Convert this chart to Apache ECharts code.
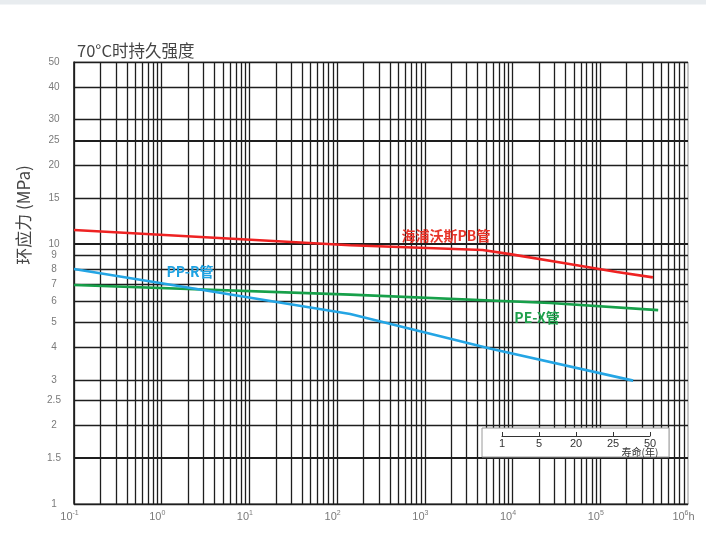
<!DOCTYPE html>
<html>
<head>
<meta charset="utf-8">
<script src="https://cdn.jsdelivr.net/npm/echarts@6/dist/echarts.min.js"></script>
<style>
  html, body { margin: 0; padding: 0; background: #fff; }
  #chart { width: 706px; height: 546px; }
</style>
</head>
<body>
<div id="chart"></div>
<script>
// Long-term hydrostatic strength of plastic pipes at 70 °C (log–log)

// 海浦沃斯 PB 管
const pbHours  = [0.1, 141, 4570, 9330, 38000, 155000, 398000];
const pbStress = [11.3, 9.88, 9.47, 9.13, 8.44, 7.8, 7.43];

// PP-R 管
const pprHours  = [0.1, 141, 5500, 237000];
const pprStress = [8.0, 5.37, 3.96, 2.98];

// PE-X 管
const pexHours  = [0.1, 141, 26900, 457000];
const pexStress = [6.95, 6.38, 5.92, 5.56];

// stress grid lines / tick labels (MPa)
const stressTicks = [1, 1.5, 2, 2.5, 3, 4, 5, 6, 7, 8, 9, 10, 15, 20, 25, 30, 40, 50];
const boldStress = [1.5, 10, 25];

// time grid: decades 10^-1 .. 10^5 and the 2..9 subdivisions
const decadeExponents = [-1, 0, 1, 2, 3, 4, 5];
const subdivisions = [1, 2, 3, 4, 5, 6, 7, 8, 9];

// service life scale (years)
const lifeYears = ['1', '5', '20', '25', '50'];

const seriesLabels = {
  pb: '海浦沃斯PB管',
  ppr: 'PP-R管',
  pex: 'PE-X管'
};

const zip = (xs, ys) => xs.map((x, i) => [x, ys[i]]);

const gridColor = '#1e1e1e';
const timeLines = [];
decadeExponents.forEach(e => {
  subdivisions.forEach(m => {
    timeLines.push({ xAxis: +(m * Math.pow(10, e)).toPrecision(6) });
  });
});
const stressLines = stressTicks.map(v => ({
  yAxis: v,
  lineStyle: { width: boldStress.includes(v) ? 2.2 : 1.3 }
}));

// text tag anchored at a point in data space
function annotation(coord, text, color) {
  return {
    coord: coord,
    symbol: 'circle',
    symbolSize: 1,
    itemStyle: { color: 'rgba(0,0,0,0)' },
    label: {
      show: true,
      formatter: text,
      color: color,
      fontSize: 14,
      fontWeight: 'bold',
      fontFamily: 'Noto Sans CJK SC',
      position: 'inside'
    }
  };
}

const chart = echarts.init(document.getElementById('chart'), null, { renderer: 'canvas' });

chart.setOption({
  animation: false,
  backgroundColor: '#fff',
  title: {
    text: '70°C时持久强度',
    left: 72,
    top: 37,
    textStyle: {
      fontSize: 16.5,
      fontWeight: 'normal',
      color: '#444',
      fontFamily: 'Noto Sans CJK SC'
    }
  },
  grid: [
    {
      left: 74, right: 18, top: 62, bottom: 42,
      show: true, borderColor: '#8c8c8c', borderWidth: 1, backgroundColor: 'transparent'
    },
    {
      left: 502, width: 148, top: 431, height: 5,
      show: false, z: 101
    }
  ],
  xAxis: [
    {
      type: 'log',
      logBase: 10,
      min: 0.1,
      max: 1e6,
      splitNumber: 7,
      gridIndex: 0,
      axisLine: { show: true, lineStyle: { color: '#7a7a7a', width: 1.5 } },
      axisTick: { show: false },
      splitLine: { show: false },
      axisLabel: {
        margin: 6,
        color: '#7a7a7a',
        padding: [0, 9, 0, 0],
        formatter: function (v) {
          const e = Math.round(Math.log10(v));
          return '{b|10}{s|' + e + '}' + (e === 6 ? '{b|h}' : '');
        },
        rich: {
          b: { fontSize: 11, color: '#7a7a7a', fontFamily: 'Liberation Sans' },
          s: { fontSize: 7, color: '#7a7a7a', verticalAlign: 'top', padding: [0, 0, 6, 0], fontFamily: 'Liberation Sans' }
        }
      }
    },
    {
      type: 'category',
      gridIndex: 1,
      data: lifeYears,
      boundaryGap: false,
      z: 102,
      axisLine: { show: true, lineStyle: { color: '#333', width: 1 } },
      axisTick: { show: true, inside: true, length: 4, alignWithLabel: true, lineStyle: { color: '#333' } },
      axisLabel: { margin: 2, fontSize: 11, color: '#333', fontFamily: 'Liberation Sans' },
      splitLine: { show: false }
    }
  ],
  yAxis: [
    {
      type: 'log',
      logBase: 10,
      min: 1,
      max: 50,
      gridIndex: 0,
      axisLine: { show: true, lineStyle: { color: gridColor, width: 1.5 } },
      axisTick: { show: false },
      splitLine: { show: false },
      axisLabel: {
        customValues: stressTicks,
        margin: 20,
        align: 'center',
        fontSize: 10,
        color: '#7a7a7a',
        fontFamily: 'Liberation Sans'
      }
    },
    {
      type: 'value',
      gridIndex: 1,
      show: false
    }
  ],
  graphic: [
    { type: 'rect', shape: { x: 0, y: 0, width: 706, height: 4.5 }, style: { fill: '#e8ecef' }, z: 100 },
    {
      type: 'text', x: 24, y: 215, rotation: Math.PI / 2,
      style: {
        text: '环应力 (MPa)', fill: '#444', fontSize: 17,
        fontFamily: 'Noto Sans CJK SC', align: 'center', verticalAlign: 'middle'
      },
      z: 100
    },
    {
      type: 'rect', shape: { x: 482, y: 428, width: 187, height: 29 },
      style: { fill: '#fff', stroke: '#9a9a9a', lineWidth: 1 }, z: 100
    },
    {
      type: 'text', x: 640, y: 452,
      style: {
        text: '寿命(年)', fill: '#333', fontSize: 10,
        fontFamily: 'Noto Sans CJK SC', align: 'center', verticalAlign: 'middle'
      },
      z: 103
    }
  ],
  series: [
    {
      name: 'grid',
      type: 'line',
      data: [],
      z: 1,
      silent: true,
      markLine: {
        silent: true,
        z: 1,
        symbol: ['none', 'none'],
        label: { show: false },
        emphasis: { disabled: true },
        lineStyle: { color: gridColor, width: 1.3, type: 'solid' },
        data: timeLines.concat(stressLines)
      }
    },
    {
      name: seriesLabels.pex,
      type: 'line',
      data: zip(pexHours, pexStress),
      showSymbol: false,
      z: 3,
      lineStyle: { color: '#17a04a', width: 2.6 },
      markPoint: { silent: true, z: 20, data: [annotation([19000, 5.2], seriesLabels.pex, '#1fa04c')] }
    },
    {
      name: seriesLabels.ppr,
      type: 'line',
      data: zip(pprHours, pprStress),
      showSymbol: false,
      z: 4,
      lineStyle: { color: '#24a5e4', width: 2.6 },
      markPoint: { silent: true, z: 20, data: [annotation([2.1, 7.8], seriesLabels.ppr, '#1ea2e2')] }
    },
    {
      name: seriesLabels.pb,
      type: 'line',
      data: zip(pbHours, pbStress),
      showSymbol: false,
      z: 5,
      lineStyle: { color: '#ee2222', width: 2.6 },
      markPoint: { silent: true, z: 20, data: [annotation([1740, 10.75], seriesLabels.pb, '#e8352a')] }
    }
  ]
});
</script>
</body>
</html>
